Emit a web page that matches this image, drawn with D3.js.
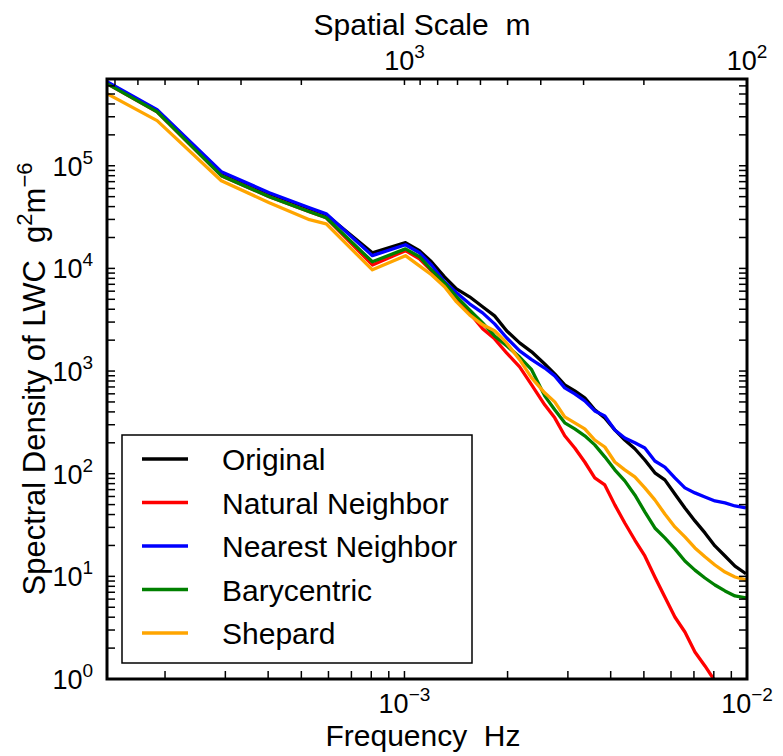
<!DOCTYPE html>
<html>
<head>
<meta charset="utf-8">
<script src="https://cdn.jsdelivr.net/npm/d3@7"></script>
<style>
	body { margin: 0; background: #fff; }
	svg text { font-family: "Liberation Sans", Arial, Helvetica, sans-serif; fill: #000; }
</style>
</head>
<body>
<svg id="chart" width="783" height="756"></svg>
<script>
/*jshint esversion: 6 */

// frequency (Hz), shared by every spectrum
var freq = [1.354e-4, 1.896e-4, 2.92e-4, 4.03e-4, 5.28e-4, 5.91e-4, 8.06e-4, 1.007e-3, 1.106e-3, 1.199e-3,
	1.309e-3, 1.419e-3, 1.549e-3, 1.691e-3, 1.833e-3, 1.987e-3, 2.169e-3, 2.351e-3, 2.567e-3, 2.746e-3,
	2.937e-3, 3.142e-3, 3.360e-3, 3.594e-3, 3.845e-3, 4.112e-3, 4.398e-3, 4.705e-3, 5.032e-3, 5.383e-3,
	5.757e-3, 6.158e-3, 6.588e-3, 7.047e-3, 7.538e-3, 8.061e-3, 8.626e-3, 9.224e-3, 9.93e-3];

// spectral density of LWC, g^2 m^-6
var original = [6.44e5, 3.44e5, 8.55e4, 5.33e4, 3.81e4, 3.33e4, 1.42e4, 1.78e4, 1.49e4, 1.16e4,
	8280, 6320, 5290, 4230, 3450, 2470, 1880, 1540, 1170, 940,
	733, 641, 548, 419, 350, 267, 213, 175, 136, 102,
	87.1, 63.5, 46.4, 34.7, 26.5, 19.8, 15.8, 12.6, 10.6];
var naturalNeighbor = [6.30e5, 3.36e5, 8.00e4, 4.99e4, 3.56e4, 3.11e4, 1.08e4, 1.49e4, 1.24e4, 9480,
	6920, 5060, 3690, 2580, 2060, 1500, 1100, 733, 469, 350,
	234, 178, 130, 91.0, 77.8, 49.7, 33.1, 22.6, 15.8, 9.86,
	6.30, 4.02, 2.87, 1.83, 1.34, 0.956, null, null, null];
var nearestNeighbor = [6.59e5, 3.52e5, 8.75e4, 5.46e4, 3.90e4, 3.40e4, 1.33e4, 1.70e4, 1.42e4, 1.08e4,
	7400, 5780, 4520, 3690, 2880, 2110, 1570, 1290, 1070, 898,
	686, 600, 513, 409, 366, 267, 223, 200, 178, 133,
	116, 91.0, 72.8, 65.0, 59.4, 54.3, 51.9, 48.5, 46.4];
var barycentric = [6.30e5, 3.36e5, 8.00e4, 4.99e4, 3.56e4, 3.11e4, 1.16e4, 1.55e4, 1.30e4, 9680,
	7240, 5290, 3950, 2950, 2200, 1760, 1370, 1030, 573, 419,
	313, 273, 234, 191, 146, 109, 85.1, 62.1, 42.5, 29.6,
	23.7, 18.5, 14.1, 11.5, 9.64, 8.24, 7.21, 6.44, 6.16];
var shepard = [5.04e5, 2.75e5, 7.14e4, 4.36e4, 2.98e4, 2.72e4, 9680, 1.33e4, 1.06e4, 8670,
	6620, 4720, 3530, 2820, 2470, 1880, 1290, 859, 614, 501,
	358, 313, 273, 213, 182, 130, 109, 93.1, 72.8, 55.6,
	40.5, 30.3, 24.2, 18.9, 15.5, 12.9, 11.0, 9.86, 9.23];

var seriesNames = ["Original", "Natural Neighbor", "Nearest Neighbor", "Barycentric", "Shepard"];
var seriesValues = [original, naturalNeighbor, nearestNeighbor, barycentric, shepard];
var seriesColors = ["#000000", "#ff0000", "#0000ff", "#008000", "#ffa500"];

// labelled ticks: [value, exponent text]
var xLabels = [[1e-3, "\u22123"], [1e-2, "\u22122"]];
var topLabels = [[1000, "3"], [100, "2"]];
var yLabels = [[1, "0"], [10, "1"], [100, "2"], [1000, "3"], [1e4, "4"], [1e5, "5"]];


var margin = {top: 79, right: 36, bottom: 77, left: 107};
var width = 783 - margin.left - margin.right;
var height = 756 - margin.top - margin.bottom;

var svg = d3.select("#chart");
var g = svg.append("g")
	.attr("transform", "translate(" + margin.left + "," + margin.top + ")");

var xScale = d3.scaleLog().domain([freq[0], 1e-2]).range([0, width]);
var topScale = d3.scaleLog().domain([1 / freq[0], 100]).range([0, width]);
var yScale = d3.scaleLog().domain([1, 7e5]).range([height, 0]);

g.append("clipPath").attr("id", "plotClip")
	.append("rect").attr("width", width).attr("height", height);


//************ LINES ************

var line = d3.line()
	.defined(function(d) { return d[1] != null; })
	.x(function(d) { return xScale(d[0]); })
	.y(function(d) { return yScale(d[1]); });

seriesValues.forEach(function(vals, i) {
	g.append("path")
		.datum(freq.map(function(f, j) { return [f, vals[j]]; }))
		.attr("clip-path", "url(#plotClip)")
		.attr("fill", "none")
		.attr("stroke", seriesColors[i])
		.attr("stroke-width", 3.3)
		.attr("stroke-linejoin", "round")
		.attr("d", line);
});


//************ TICKS (all pointing inward) ************

var tickLen = 8;
var ticks = g.append("g").attr("stroke", "#000").attr("stroke-width", 1.5);

xScale.ticks().forEach(function(t) {
	var x = xScale(t);
	if (x < 1 || x > width - 1) return;
	ticks.append("line").attr("x1", x).attr("x2", x).attr("y1", height).attr("y2", height - tickLen);
});
topScale.ticks().forEach(function(t) {
	var x = topScale(t);
	if (x < 1 || x > width - 1) return;
	ticks.append("line").attr("x1", x).attr("x2", x).attr("y1", 0).attr("y2", 6);
});
yScale.ticks().forEach(function(t) {
	var y = yScale(t);
	if (y < 1 || y > height - 1) return;
	ticks.append("line").attr("x1", 0).attr("x2", tickLen).attr("y1", y).attr("y2", y);
	ticks.append("line").attr("x1", width).attr("x2", width - tickLen).attr("y1", y).attr("y2", y);
});

// frame
g.append("rect")
	.attr("width", width).attr("height", height)
	.attr("fill", "none").attr("stroke", "#000").attr("stroke-width", 3);


//************ TICK LABELS ************

function powerLabel(sel, exp) {
	sel.append("tspan").text("10");
	sel.append("tspan").attr("dy", -12).style("font-size", "19px").text(exp);
}

xLabels.forEach(function(d) {
	g.append("text")
		.attr("x", xScale(d[0])).attr("y", height + 34)
		.attr("text-anchor", "middle").style("font-size", "27px")
		.call(powerLabel, d[1]);
});
topLabels.forEach(function(d) {
	g.append("text")
		.attr("x", topScale(d[0])).attr("y", -9)
		.attr("text-anchor", "middle").style("font-size", "27px")
		.call(powerLabel, d[1]);
});
yLabels.forEach(function(d) {
	g.append("text")
		.attr("x", -14).attr("y", yScale(d[0]) + 10)
		.attr("text-anchor", "end").style("font-size", "27px")
		.call(powerLabel, d[1]);
});


//************ AXIS TITLES ************

svg.append("text")
	.attr("x", 423).attr("y", 746)
	.attr("text-anchor", "middle").style("font-size", "30px")
	.text("Frequency\u00a0\u00a0Hz");

svg.append("text")
	.attr("x", 422).attr("y", 35)
	.attr("text-anchor", "middle").style("font-size", "30px")
	.text("Spatial Scale\u00a0\u00a0m");

var yTitle = svg.append("text")
	.attr("transform", "translate(45," + (margin.top + height / 2) + ") rotate(-90)")
	.attr("text-anchor", "middle").style("font-size", "31px");
yTitle.append("tspan").text("Spectral Density of LWC\u00a0\u00a0g");
yTitle.append("tspan").attr("dy", -13).style("font-size", "22px").text("2");
yTitle.append("tspan").attr("dy", 13).text("m");
yTitle.append("tspan").attr("dy", -13).style("font-size", "22px").text("\u22126");


//************ LEGEND ************

var legend = g.append("g").attr("transform", "translate(15,356)");
legend.append("rect")
	.attr("width", 350).attr("height", 228)
	.attr("fill", "#fff").attr("stroke", "#000").attr("stroke-width", 1.5);

seriesNames.forEach(function(name, i) {
	var y = 24 + i * 43.5;
	legend.append("line")
		.attr("x1", 20).attr("x2", 66).attr("y1", y).attr("y2", y)
		.attr("stroke", seriesColors[i]).attr("stroke-width", 3.3);
	legend.append("text")
		.attr("x", 100).attr("y", y + 11)
		.style("font-size", "30px")
		.text(name);
});
</script>
</body>
</html>
